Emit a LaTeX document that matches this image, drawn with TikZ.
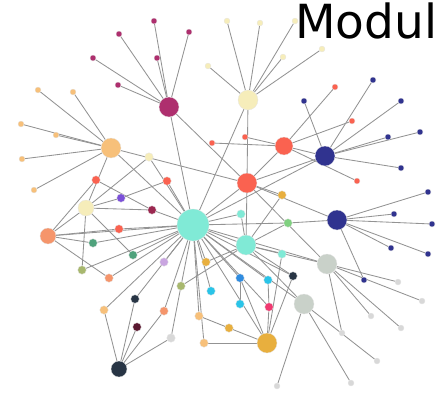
\documentclass[tikz,border=0pt]{standalone}
\usepackage{fontspec}
\newfontfamily\dejavu{DejaVu Sans}
\usetikzlibrary{backgrounds}

\definecolor{aqua}{HTML}{80EAD6}
\definecolor{berry}{HTML}{AE2F6E}
\definecolor{cream}{HTML}{F6EDBA}
\definecolor{apricot}{HTML}{F7C07A}
\definecolor{tomato}{HTML}{FA6250}
\definecolor{navy}{HTML}{30338F}
\definecolor{salmon}{HTML}{F5956B}
\definecolor{ash}{HTML}{C9D1C9}
\definecolor{gold}{HTML}{E8AF3E}
\definecolor{slate}{HTML}{283545}
\definecolor{teal}{HTML}{4FA27C}
\definecolor{olive}{HTML}{A8B86E}
\definecolor{lavender}{HTML}{C9A5E0}
\definecolor{violet}{HTML}{7B50D8}
\definecolor{azure}{HTML}{2F8CE0}
\definecolor{sky}{HTML}{2AC4E8}
\definecolor{rose}{HTML}{F03870}
\definecolor{maroon}{HTML}{5A1830}
\definecolor{pale}{HTML}{D8D8D8}
\definecolor{mint}{HTML}{80D080}
\definecolor{plum}{HTML}{9B2850}
\definecolor{wirec}{HTML}{939393}

\begin{document}
\begin{tikzpicture}
[x=1pt,y=-1pt,
 hub/.style={circle,inner sep=0pt,minimum size=20pt,draw=white!80!gray,line width=0.3pt},
 mid/.style={circle,inner sep=0pt,minimum size=8.5pt,draw=white!80!gray,line width=0.3pt},
 leaf/.style={circle,inner sep=0pt,minimum size=6pt,draw=white!80!gray,line width=0.3pt},
 every edge/.append style={draw=wirec,line width=0.85pt}]
\useasboundingbox (0,0) rectangle (442,402);
\node[font=\dejavu\fontsize{47}{47}\selectfont,anchor=base west,inner sep=0pt] (title) at (295,38) {Modul};
% hubs
\node[hub,fill=aqua,minimum size=32pt](cen) at (193,225) {};
\node[hub,fill=berry](mag) at (169,107) {};
\node[hub,fill=cream](crm) at (248,100) {};
\node[hub,fill=apricot](org) at (111,148) {};
\node[hub,fill=tomato,minimum size=18pt](rdA) at (284,146) {};
\node[hub,fill=tomato](rdB) at (247,183) {};
\node[hub,fill=navy](nvA) at (325,156) {};
\node[hub,fill=navy](nvB) at (337,220) {};
\node[hub,fill=cream,minimum size=16pt](crL) at (86,208) {};
\node[hub,fill=salmon,minimum size=16pt](slL) at (48,236) {};
\node[hub,fill=aqua](cyB) at (246,245) {};
\node[hub,fill=ash](gyA) at (327,264) {};
\node[hub,fill=ash](gyB) at (304,304) {};
\node[hub,fill=gold](gld) at (267,343) {};
\node[hub,fill=slate,minimum size=16pt](dk) at (119,369) {};
% leaves
\node[leaf,fill=berry](m1) at (154,21) {};
\node[leaf,fill=berry](m2) at (119,34) {};
\node[leaf,fill=berry](m3) at (93,58) {};
\node[leaf,fill=berry](m4) at (157,58) {};
\node[leaf,fill=berry](m5) at (189,32) {};
\node[leaf,fill=berry](m6) at (118,85) {};
\node[leaf,fill=cream](c1) at (227,21) {};
\node[leaf,fill=cream](c2) at (260,23) {};
\node[leaf,fill=cream](c3) at (295,21) {};
\node[leaf,fill=cream](c4) at (283,57) {};
\node[leaf,fill=cream](c5) at (322,49) {};
\node[leaf,fill=cream](c6) at (208,66) {};
\node[leaf,fill=apricot](o1) at (38,90) {};
\node[leaf,fill=apricot](o2) at (73,92) {};
\node[leaf,fill=apricot](o3) at (21,124) {};
\node[leaf,fill=apricot](o4) at (56,135) {};
\node[leaf,fill=apricot](o5) at (22,159) {};
\node[leaf,fill=apricot](o6) at (34,190) {};
\node[leaf,fill=navy](n1) at (304,101) {};
\node[leaf,fill=navy](n2) at (373,80) {};
\node[leaf,fill=navy](n3) at (401,101) {};
\node[leaf,fill=navy](n4) at (388,137) {};
\node[leaf,fill=navy](n5) at (420,132) {};
\node[leaf,fill=navy](n6) at (401,168) {};
\node[leaf,fill=navy](n7) at (394,214) {};
\node[leaf,fill=navy](n8) at (432,224) {};
\node[leaf,fill=navy](n9) at (391,248) {};
\node[leaf,fill=navy](n10) at (428,254) {};
\node[leaf,fill=navy](n11) at (364,280) {};
\node[leaf,fill=navy](n12) at (428,192) {};
\node[leaf,fill=tomato](r1) at (335,87) {};
\node[leaf,fill=tomato](r2) at (352,121) {};
\node[leaf,fill=tomato](r3) at (245,137) {};
\node[leaf,fill=tomato](r4) at (212,143) {};
\node[leaf,fill=tomato](r5) at (357,181) {};
\node[leaf,fill=pale](g1) at (398,282) {};
\node[leaf,fill=pale](g2) at (422,301) {};
\node[leaf,fill=pale](g3) at (371,316) {};
\node[leaf,fill=pale](g4) at (401,328) {};
\node[leaf,fill=pale](g5) at (342,333) {};
\node[leaf,fill=pale](g6) at (377,361) {};
\node[leaf,fill=pale](g7) at (351,383) {};
\node[leaf,fill=pale](g8) at (277,386) {};
% middle nodes
\node[mid,fill=cream](cs) at (149,157) {};
\node[mid,fill=tomato](ra) at (96,180) {};
\node[mid,fill=tomato](rb) at (167,181) {};
\node[mid,fill=violet](pu) at (121,198) {};
\node[mid,fill=plum](mm) at (152,210) {};
\node[mid,fill=tomato](rc) at (119,229) {};
\node[mid,fill=teal](ga) at (93,243) {};
\node[mid,fill=teal](gb) at (133,255) {};
\node[mid,fill=olive](ol) at (82,270) {};
\node[mid,fill=salmon](sa) at (109,278) {};
\node[mid,fill=lavender](lv) at (164,262) {};
\node[mid,fill=gold](yb) at (206,262) {};
\node[mid,fill=olive](oc) at (181,286) {};
\node[mid,fill=sky](sk) at (211,291) {};
\node[mid,fill=slate](dd) at (135,299) {};
\node[mid,fill=apricot](pa) at (104,310) {};
\node[mid,fill=salmon](sb) at (164,311) {};
\node[mid,fill=maroon](mr) at (137,327) {};
\node[mid,fill=pale](lg) at (171,338) {};
\node[mid,fill=apricot](pb) at (199,316) {};
\node[mid,fill=apricot](pc) at (204,343) {};
\node[mid,fill=gold](yc) at (229,328) {};
\node[mid,fill=aqua](cya) at (241,214) {};
\node[mid,fill=mint](grn) at (288,223) {};
\node[mid,fill=aqua](cyc) at (282,254) {};
\node[mid,fill=slate](dx) at (293,276) {};
\node[mid,fill=azure](bl) at (240,278) {};
\node[mid,fill=sky](sy) at (268,280) {};
\node[mid,fill=sky](sz) at (240,304) {};
\node[mid,fill=rose](pk) at (269,307) {};
\node[mid,fill=gold](ya) at (282,195) {};
\begin{scope}[on background layer]
\path (mag) edge (m1); \path (mag) edge (m2); \path (mag) edge (m3);
\path (mag) edge (m4); \path (mag) edge (m5); \path (mag) edge (m6);
\path (crm) edge (c1); \path (crm) edge (c2); \path (crm) edge (c3);
\path (crm) edge (c4); \path (crm) edge (c5); \path (crm) edge (c6);
\path (org) edge (o1); \path (org) edge (o2); \path (org) edge (o3);
\path (org) edge (o4); \path (org) edge (o5); \path (org) edge (o6);
\path (nvA) edge (n1); \path (nvA) edge (n2); \path (nvA) edge (n3);
\path (nvA) edge (n4); \path (nvA) edge (n5); \path (nvA) edge (n6);
\path (nvB) edge (n7); \path (nvB) edge (n8); \path (nvB) edge (n9);
\path (nvB) edge (n10); \path (nvB) edge (n11); \path (nvB) edge (n12);
\path (rdA) edge (r1); \path (rdA) edge (r2); \path (rdA) edge (r3);
\path (rdA) edge (r4); \path (rdA) edge (r5);
\path (gyA) edge (g1); \path (gyA) edge (g2); \path (gyA) edge (g3);
\path (gyA) edge (g4); \path (gyA) edge (g5);
\path (gyB) edge (g6); \path (gyB) edge (g7); \path (gyB) edge (g8);
\path (cen) edge (mag); \path (cen) edge (crm); \path (cen) edge (org);
\path (cen) edge (rdB); \path (cen) edge (nvA); \path (cen) edge (cyB);
\path (cen) edge (gyA); \path (cen) edge (gyB); \path (cen) edge (gld);
\path (cen) edge (slL); \path (cen) edge (cs); \path (cen) edge (ol);
\path (cen) edge (rb); \path (cen) edge (mm); \path (cen) edge (rc);
\path (cen) edge (ga); \path (cen) edge (gb); \path (cen) edge (sa);
\path (cen) edge (lv); \path (cen) edge (yb); \path (cen) edge (oc);
\path (cen) edge (sk); \path (cen) edge (pa); \path (cen) edge (sb);
\path (cen) edge (pb); \path (cen) edge (pc); \path (cen) edge (cya);
\path (cen) edge (grn); \path (cen) edge (bl); \path (cen) edge (sy);
\path (cen) edge (pk); \path (cen) edge (dx); \path (cen) edge (dd);
\path (mag) edge (rdB); \path (crm) edge (rdB); \path (org) edge (rdB);
\path (org) edge (crL); \path (rdA) edge (rdB); \path (rdA) edge (nvA);
\path (rdB) edge (nvA); \path (rdB) edge (nvB); \path (rdB) edge (cyB);
\path (rdB) edge (gyA); \path (rdB) edge (ya); \path (cyB) edge (gyA);
\path (cyB) edge (gyB); \path (cyB) edge (ya); \path (cyB) edge (cya);
\path (cyB) edge (cyc); \path (cyB) edge (grn); \path (cyB) edge (dx);
\path (grn) edge (nvB); \path (cyc) edge (gld); \path (dx) edge (gld);
\path (pk) edge (gld); \path (sy) edge (pk); \path (bl) edge (sz);
\path (bl) edge (gld); \path (yc) edge (gld); \path (pb) edge (yc);
\path (pc) edge (gld); \path (cs) edge (crL); \path (pu) edge (crL);
\path (pu) edge (rb); \path (mm) edge (crL); \path (gb) edge (crL);
\path (ol) edge (crL); \path (slL) edge (crL); \path (slL) edge (ra);
\path (slL) edge (rc); \path (slL) edge (ga); \path (slL) edge (sa);
\path (ra) edge (mm);
\path (dk) edge (pa); \path (dk) edge (dd); \path (dk) edge (mr);
\path (dk) edge (sb); \path (dk) edge (lg); \path (lg) edge (oc);
\path (oc) edge (cyB); \path (yb) edge (cyB);
\end{scope}
\end{tikzpicture}
\end{document}
